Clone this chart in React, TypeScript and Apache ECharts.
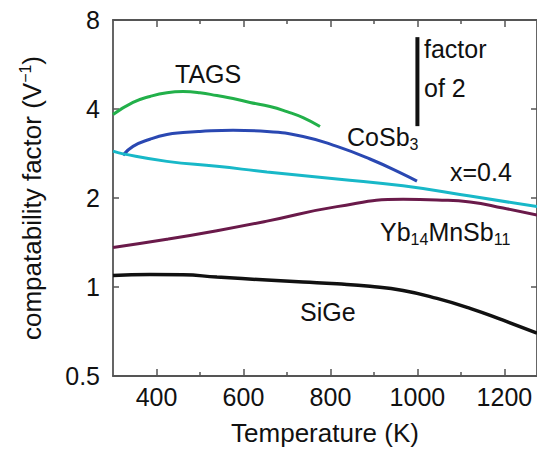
import React, { useEffect, useRef } from "react";
import * as echarts from "echarts";

const tagsT = [300, 346, 385, 424, 461, 500, 539, 576, 615, 661, 700, 737, 776];
const tagsV = [3.83, 4.21, 4.41, 4.54, 4.58, 4.54, 4.44, 4.34, 4.21, 4.08, 3.92, 3.74, 3.49];

const cosbT = [323, 346, 385, 424, 461, 500, 576, 654, 737, 815, 891, 967, 999];
const cosbV = [2.79, 2.99, 3.16, 3.28, 3.33, 3.36, 3.39, 3.36, 3.23, 2.99, 2.71, 2.41, 2.28];

const x04T = [300, 323, 424, 539, 654, 815, 967, 1121, 1275];
const x04V = [2.88, 2.82, 2.66, 2.56, 2.45, 2.32, 2.2, 2.03, 1.87];

const ybT = [300, 424, 539, 654, 815, 967, 1045, 1121, 1197, 1275];
const ybV = [1.36, 1.45, 1.55, 1.67, 1.87, 1.98, 1.97, 1.94, 1.85, 1.75];

const sigeT = [300, 385, 461, 539, 654, 737, 815, 891, 967, 1045, 1121, 1197, 1275];
const sigeV = [1.094, 1.102, 1.1, 1.08, 1.056, 1.04, 1.025, 1.005, 0.973, 0.915, 0.847, 0.772, 0.698];

const factorT = [1000, 1000];
const factorV = [3.5, 7.0];

const xMajorTicks = [400, 600, 800, 1000, 1200];
const xMinorTicks = [500, 700, 900, 1100];

const pairs = (xs: number[], ys: number[]) => xs.map((x, i) => [x, ys[i]]);

const FONT = "Liberation Sans";
const AXIS_COLOR = "#555";

export default function App() {
  const ref = useRef<HTMLDivElement>(null);
  useEffect(() => {
    if (!ref.current) return;
    const chart = echarts.init(ref.current, undefined, { renderer: "svg" });
    const baseX = {
      type: "value" as const,
      min: 300,
      max: 1275,
      gridIndex: 0,
      splitLine: { show: false },
    };
    const baseY = {
      type: "log" as const,
      logBase: 2,
      min: 0.5,
      max: 8,
      gridIndex: 0,
      splitLine: { show: false },
    };
    const axisLine = (show: boolean) => ({ show, onZero: false, lineStyle: { color: AXIS_COLOR, width: 1.8 } });
    const tickStyle = { color: AXIS_COLOR, width: 1.5 };
    const lineStyle = (color: string, width = 3) => ({ color, width });
    const textEl = (text: string, x: number, y: number, rich?: any) => ({
      type: "text",
      x,
      y,
      style: {
        text,
        fontFamily: FONT,
        fontSize: 25,
        fill: "#111",
        verticalAlign: "middle",
        rich,
      },
    });
    const subRich = {
      a: { fontFamily: FONT, fontSize: 25, lineHeight: 30, verticalAlign: "middle", fill: "#111" },
      s: { fontFamily: FONT, fontSize: 16, lineHeight: 8, verticalAlign: "bottom", fill: "#111" },
    };
    chart.setOption({
      animation: false,
      backgroundColor: "#fff",
      grid: { left: 113, top: 20, width: 424, height: 358, show: false },
      xAxis: [
        {
          ...baseX,
          position: "bottom",
          axisLine: axisLine(true),
          axisTick: { show: true, inside: true, length: 7, customValues: xMajorTicks, lineStyle: tickStyle },
          axisLabel: { show: true, customValues: xMajorTicks, formatter: (v: number) => String(v), fontFamily: FONT, fontSize: 25, color: "#111", margin: 8 },
          name: "Temperature (K)",
          nameLocation: "middle",
          nameGap: 44,
          nameTextStyle: { fontFamily: FONT, fontSize: 26, color: "#111" },
        },
        {
          ...baseX,
          position: "bottom",
          axisLine: axisLine(false),
          axisTick: { show: true, inside: true, length: 4, customValues: xMinorTicks, lineStyle: tickStyle },
          axisLabel: { show: false },
        },
        {
          ...baseX,
          position: "top",
          axisLine: axisLine(true),
          axisTick: { show: true, inside: true, length: 7, customValues: xMajorTicks, lineStyle: tickStyle },
          axisLabel: { show: false },
        },
        {
          ...baseX,
          position: "top",
          axisLine: axisLine(false),
          axisTick: { show: true, inside: true, length: 4, customValues: xMinorTicks, lineStyle: tickStyle },
          axisLabel: { show: false },
        },
      ],
      yAxis: [
        {
          ...baseY,
          position: "left",
          axisLine: axisLine(true),
          axisTick: { show: true, inside: true, length: 6, lineStyle: tickStyle },
          axisLabel: { show: true, fontFamily: FONT, fontSize: 25, color: "#111", margin: 13 },
          name: "{a|compatability factor (V}{s|−1}{a|)}",
          nameLocation: "middle",
          nameGap: 66,
          nameTextStyle: {
            fontFamily: FONT,
            fontSize: 26,
            color: "#111",
            rich: {
              a: { fontFamily: FONT, fontSize: 26, lineHeight: 30, verticalAlign: "middle", color: "#111" },
              s: { fontFamily: FONT, fontSize: 16, lineHeight: 26, verticalAlign: "top", color: "#111" },
            },
          },
        },
        {
          ...baseY,
          position: "right",
          axisLine: axisLine(true),
          axisTick: { show: true, inside: true, length: 6, lineStyle: tickStyle },
          axisLabel: { show: false },
        },
      ],
      series: [
        { name: "TAGS", type: "line", smooth: true, showSymbol: false, data: pairs(tagsT, tagsV), lineStyle: lineStyle("#22b04a") },
        { name: "CoSb3", type: "line", smooth: true, showSymbol: false, data: pairs(cosbT, cosbV), lineStyle: lineStyle("#2a48b2") },
        { name: "x=0.4", type: "line", smooth: true, showSymbol: false, data: pairs(x04T, x04V), lineStyle: lineStyle("#18b8c8") },
        { name: "Yb14MnSb11", type: "line", smooth: true, showSymbol: false, data: pairs(ybT, ybV), lineStyle: lineStyle("#6a1a4a") },
        { name: "SiGe", type: "line", smooth: true, showSymbol: false, data: pairs(sigeT, sigeV), lineStyle: lineStyle("#111", 3.5) },
        { name: "factor of 2", type: "line", showSymbol: false, data: pairs(factorT, factorV), lineStyle: lineStyle("#111", 4) },
      ],
      graphic: [
        textEl("TAGS", 175, 74),
        textEl("{a|CoSb}{s|3}", 347, 137, subRich),
        textEl("x=0.4", 450, 172),
        textEl("{a|Yb}{s|14}{a|MnSb}{s|11}", 380, 232, subRich),
        textEl("SiGe", 300, 312),
        textEl("factor", 424, 49),
        textEl("of 2", 424, 88),
      ],
    });
    return () => chart.dispose();
  }, []);
  return <div ref={ref} style={{ position: "absolute", left: 0, top: 0, width: 537, height: 451 }} />;
}
